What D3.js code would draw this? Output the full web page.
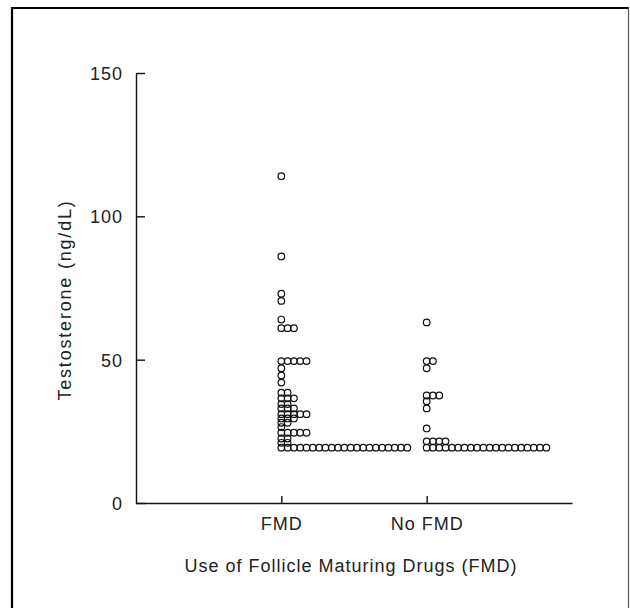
<!DOCTYPE html>
<html>
<head>
<meta charset="utf-8">
<script src="https://d3js.org/d3.v7.min.js"></script>
<style>
  body { margin: 0; background: #fff; }
  .txt { font-family: "Liberation Sans", Arial, sans-serif; font-size: 18px; fill: #222; letter-spacing: 1px; }
  .axis path, .axis line { stroke: #111; stroke-width: 1.4; }
</style>
</head>
<body>
<div id="chart"></div>
<script>
// groups on the x axis
const groups = ["FMD", "No FMD"];

// testosterone levels (ng/dL) and how many women sat at each level
const fmdLevels = [114, 86, 73, 70.5, 64, 61, 49.5, 47, 44.5, 42, 38.5, 36.5, 34.5, 33, 31, 29.5, 28, 26.5, 24.5, 22.5, 21, 19.3];
const fmdCounts = [1, 1, 1, 1, 1, 3, 5, 1, 1, 1, 2, 3, 2, 3, 5, 3, 2, 1, 5, 2, 2, 21];

const noFmdLevels = [63, 49.5, 47, 37.5, 35.5, 33, 26, 21.5, 19.3];
const noFmdCounts = [1, 2, 1, 3, 1, 1, 1, 4, 20];

const yTicks = [0, 50, 100, 150];

const W = 630, H = 608;
const svg = d3.select("#chart").append("svg")
  .attr("width", W).attr("height", H);

// outer frame (top, left, right edges of the scanned box)
svg.append("line").attr("x1", 12).attr("x2", 629).attr("y1", 8).attr("y2", 8)
  .attr("stroke", "#000").attr("stroke-width", 2.2);
svg.append("line").attr("x1", 12).attr("x2", 12).attr("y1", 7).attr("y2", H)
  .attr("stroke", "#000").attr("stroke-width", 2.2);
svg.append("line").attr("x1", 628.5).attr("x2", 628.5).attr("y1", 7).attr("y2", H)
  .attr("stroke", "#555").attr("stroke-width", 1.2);

const x = d3.scalePoint().domain(groups).range([136, 572]).padding(1);
const y = d3.scaleLinear().domain([0, 150]).range([503, 73]);

// y axis, ticks pointing inward
const yAxis = svg.append("g").attr("class", "axis")
  .attr("transform", "translate(136,0)")
  .call(d3.axisLeft(y).tickValues(yTicks).tickSizeInner(-9).tickSizeOuter(0).tickPadding(13));
yAxis.selectAll("text").attr("class", "txt").attr("dy", "0.36em");

// x axis
const xAxis = svg.append("g").attr("class", "axis")
  .attr("transform", "translate(0,503)")
  .call(d3.axisBottom(x).tickSizeInner(-7).tickSizeOuter(0).tickPadding(14));
xAxis.selectAll("text").attr("class", "txt");

// axis titles
svg.append("text").attr("class", "txt")
  .attr("x", 351).attr("y", 572).attr("text-anchor", "middle")
  .text("Use of Follicle Maturing Drugs (FMD)");

svg.append("text").attr("class", "txt")
  .attr("transform", "translate(71,300) rotate(-90)")
  .attr("text-anchor", "middle")
  .style("letter-spacing", "1.8px")
  .text("Testosterone (ng/dL)");

// expand level/count pairs into points spread sideways
const step = 6.3;
function points(group, levels, counts) {
  const out = [];
  levels.forEach((v, i) => {
    for (let k = 0; k < counts[i]; k++) out.push({ group, value: v, k });
  });
  return out;
}
const data = points("FMD", fmdLevels, fmdCounts)
  .concat(points("No FMD", noFmdLevels, noFmdCounts));

svg.append("g").selectAll("circle")
  .data(data)
  .join("circle")
  .attr("cx", d => x(d.group) + d.k * step)
  .attr("cy", d => y(d.value))
  .attr("r", 3.3)
  .attr("fill", "none")
  .attr("stroke", "#111")
  .attr("stroke-width", 1.2);
</script>
</body>
</html>
